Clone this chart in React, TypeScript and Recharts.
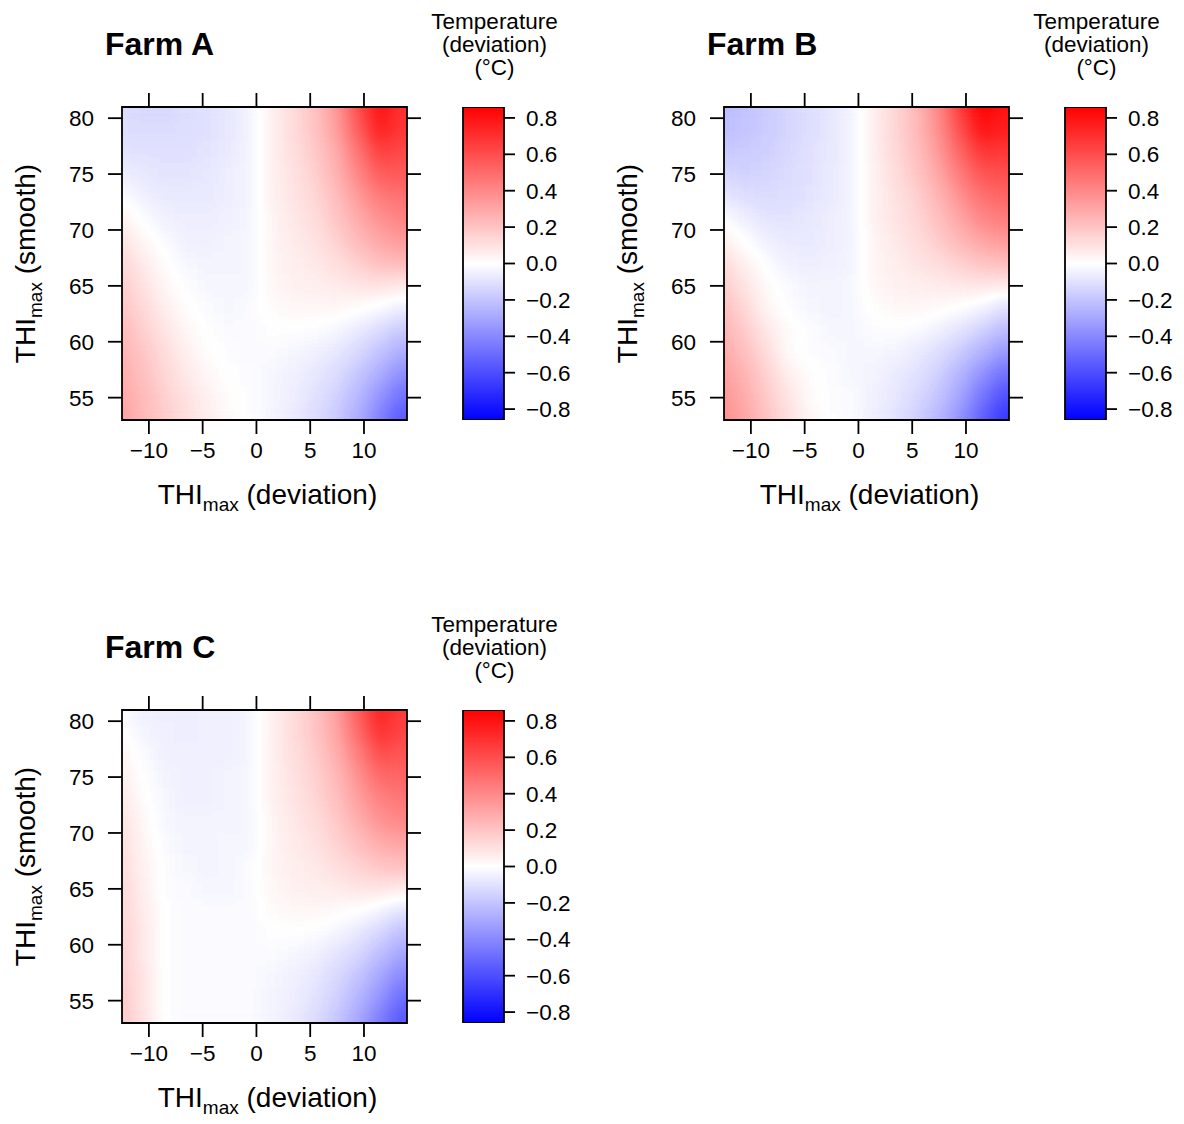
import React from "react";
import { Bar, ComposedChart, ReferenceArea, Scatter, ScatterChart, XAxis, YAxis } from "recharts";

// axis ranges and ticks
const X_DOMAIN: [number, number] = [-12.5, 14];
const Y_DOMAIN: [number, number] = [53, 81];
const X_TICKS = [-10, -5, 0, 5, 10];
const Y_TICKS = [55, 60, 65, 70, 75, 80];
const LEGEND_LIMIT = 0.86;
const LEGEND_TICKS = [-0.8, -0.6, -0.4, -0.2, 0, 0.2, 0.4, 0.6, 0.8];
const LEGEND_BAR = [{ name: "key", range: [-LEGEND_LIMIT, LEGEND_LIMIT] }];

// centres of the fitted surface grid (THImax deviation / THImax smooth)
const GRID_X = [-12.5, -10.5, -8.5, -6.5, -4.5, -2.5, -0.5, 1.5, 3.5, 5.5, 7.5, 9.5, 11.5, 13.5];
const GRID_Y = [81, 79, 77, 75, 73, 71, 69, 67, 65, 63, 61, 59, 57, 55, 53];
const GRID_STEP = 2;

// temperature deviation (°C), one row per GRID_Y value
const FARM_A = [
  [-0.12, -0.13, -0.13, -0.12, -0.1, -0.08, -0.04, 0.05, 0.12, 0.2, 0.35, 0.6, 0.8, 0.7],
  [-0.11, -0.12, -0.12, -0.11, -0.1, -0.08, -0.04, 0.05, 0.12, 0.2, 0.33, 0.55, 0.76, 0.68],
  [-0.09, -0.1, -0.1, -0.1, -0.09, -0.07, -0.04, 0.05, 0.11, 0.18, 0.29, 0.47, 0.65, 0.62],
  [-0.06, -0.08, -0.09, -0.09, -0.08, -0.06, -0.04, 0.05, 0.1, 0.16, 0.26, 0.41, 0.55, 0.56],
  [-0.01, -0.05, -0.07, -0.07, -0.07, -0.06, -0.04, 0.05, 0.09, 0.14, 0.22, 0.34, 0.45, 0.48],
  [0.05, -0.01, -0.05, -0.06, -0.06, -0.05, -0.03, 0.04, 0.08, 0.12, 0.19, 0.29, 0.37, 0.42],
  [0.1, 0.03, -0.02, -0.05, -0.05, -0.04, -0.03, 0.04, 0.07, 0.1, 0.15, 0.23, 0.3, 0.34],
  [0.14, 0.07, 0.01, -0.03, -0.04, -0.04, -0.03, 0.04, 0.06, 0.08, 0.11, 0.16, 0.21, 0.23],
  [0.17, 0.1, 0.03, -0.01, -0.03, -0.03, -0.03, 0.03, 0.05, 0.06, 0.07, 0.09, 0.1, 0.08],
  [0.2, 0.13, 0.06, 0.01, -0.02, -0.03, -0.02, 0.02, 0.03, 0.03, 0.03, 0.01, -0.02, -0.06],
  [0.23, 0.16, 0.09, 0.03, 0.0, -0.02, -0.02, 0.0, 0.0, -0.01, -0.03, -0.07, -0.12, -0.18],
  [0.26, 0.19, 0.12, 0.05, 0.01, -0.01, -0.02, -0.02, -0.03, -0.05, -0.08, -0.13, -0.2, -0.28],
  [0.28, 0.21, 0.14, 0.08, 0.03, 0.0, -0.01, -0.03, -0.05, -0.08, -0.12, -0.19, -0.28, -0.38],
  [0.3, 0.23, 0.16, 0.1, 0.05, 0.01, -0.01, -0.03, -0.06, -0.1, -0.15, -0.24, -0.36, -0.48],
  [0.32, 0.24, 0.17, 0.11, 0.06, 0.02, 0.0, -0.04, -0.07, -0.12, -0.18, -0.28, -0.42, -0.56],
];

const FARM_B = [
  [-0.22, -0.2, -0.17, -0.14, -0.11, -0.08, -0.04, 0.06, 0.14, 0.24, 0.4, 0.66, 0.86, 0.8],
  [-0.21, -0.19, -0.17, -0.14, -0.11, -0.08, -0.04, 0.06, 0.14, 0.23, 0.38, 0.6, 0.8, 0.76],
  [-0.18, -0.17, -0.16, -0.13, -0.1, -0.08, -0.04, 0.06, 0.13, 0.21, 0.34, 0.52, 0.68, 0.68],
  [-0.14, -0.15, -0.14, -0.12, -0.1, -0.07, -0.04, 0.05, 0.12, 0.19, 0.3, 0.45, 0.58, 0.6],
  [-0.08, -0.11, -0.12, -0.11, -0.09, -0.07, -0.04, 0.05, 0.1, 0.16, 0.25, 0.37, 0.48, 0.52],
  [-0.01, -0.06, -0.09, -0.09, -0.08, -0.06, -0.04, 0.05, 0.09, 0.14, 0.21, 0.31, 0.4, 0.44],
  [0.06, 0.0, -0.05, -0.07, -0.07, -0.06, -0.04, 0.04, 0.08, 0.12, 0.17, 0.24, 0.31, 0.34],
  [0.12, 0.05, -0.01, -0.05, -0.06, -0.05, -0.04, 0.04, 0.06, 0.09, 0.12, 0.16, 0.2, 0.22],
  [0.17, 0.09, 0.02, -0.02, -0.04, -0.04, -0.03, 0.03, 0.05, 0.06, 0.07, 0.08, 0.09, 0.07],
  [0.21, 0.13, 0.04, -0.01, -0.03, -0.04, -0.03, 0.01, 0.03, 0.03, 0.02, 0.0, -0.04, -0.1],
  [0.25, 0.17, 0.08, 0.02, -0.01, -0.03, -0.03, -0.01, -0.01, -0.02, -0.05, -0.09, -0.15, -0.22],
  [0.29, 0.21, 0.12, 0.02, -0.01, -0.02, -0.03, -0.03, -0.04, -0.07, -0.11, -0.17, -0.26, -0.35],
  [0.33, 0.25, 0.15, 0.06, 0.01, -0.01, -0.03, -0.04, -0.07, -0.1, -0.16, -0.25, -0.37, -0.48],
  [0.36, 0.28, 0.18, 0.09, 0.02, -0.01, -0.02, -0.05, -0.08, -0.13, -0.2, -0.31, -0.46, -0.6],
  [0.38, 0.3, 0.2, 0.11, 0.04, 0.0, -0.02, -0.06, -0.1, -0.16, -0.24, -0.37, -0.53, -0.68],
];

const FARM_C = [
  [-0.01, -0.05, -0.06, -0.06, -0.05, -0.05, -0.03, 0.05, 0.12, 0.2, 0.33, 0.55, 0.75, 0.66],
  [0.01, -0.04, -0.05, -0.06, -0.05, -0.05, -0.03, 0.05, 0.12, 0.19, 0.31, 0.5, 0.7, 0.63],
  [0.04, -0.02, -0.05, -0.05, -0.05, -0.05, -0.03, 0.05, 0.11, 0.17, 0.27, 0.43, 0.6, 0.58],
  [0.06, 0.0, -0.04, -0.05, -0.05, -0.04, -0.03, 0.05, 0.1, 0.15, 0.24, 0.37, 0.5, 0.52],
  [0.08, 0.01, -0.03, -0.05, -0.05, -0.04, -0.03, 0.05, 0.09, 0.14, 0.21, 0.32, 0.42, 0.46],
  [0.1, 0.03, -0.03, -0.04, -0.04, -0.04, -0.03, 0.04, 0.08, 0.12, 0.18, 0.27, 0.36, 0.4],
  [0.11, 0.04, -0.02, -0.04, -0.04, -0.03, -0.03, 0.04, 0.07, 0.1, 0.15, 0.21, 0.28, 0.31],
  [0.12, 0.05, -0.01, -0.03, -0.04, -0.03, -0.02, 0.04, 0.06, 0.08, 0.11, 0.15, 0.19, 0.21],
  [0.13, 0.06, -0.01, -0.02, -0.03, -0.03, -0.02, 0.03, 0.05, 0.06, 0.07, 0.09, 0.09, 0.07],
  [0.14, 0.07, 0.0, -0.02, -0.02, -0.02, -0.02, 0.02, 0.03, 0.03, 0.02, 0.0, -0.04, -0.09],
  [0.15, 0.08, 0.0, -0.02, -0.02, -0.02, -0.02, 0.0, 0.0, -0.01, -0.04, -0.08, -0.14, -0.21],
  [0.16, 0.08, 0.0, -0.02, -0.02, -0.02, -0.02, -0.02, -0.03, -0.05, -0.09, -0.14, -0.22, -0.31],
  [0.17, 0.09, 0.0, -0.02, -0.02, -0.02, -0.02, -0.03, -0.05, -0.08, -0.13, -0.2, -0.3, -0.41],
  [0.18, 0.09, 0.0, -0.02, -0.02, -0.02, -0.02, -0.04, -0.06, -0.1, -0.16, -0.25, -0.37, -0.5],
  [0.19, 0.1, 0.0, -0.02, -0.02, -0.02, -0.02, -0.04, -0.07, -0.12, -0.19, -0.3, -0.44, -0.57],
];

const FARM_TITLES = ["Farm A", "Farm B", "Farm C"];
const LEGEND_TITLE = ["Temperature", "(deviation)", "(°C)"];

// layout of one panel (heat map chart + colour key chart)
const PANEL_W = 430;
const PANEL_H = 540;
const KEY_W = 150;
const PLOT = { left: 122, top: 107, width: 285, height: 313 };
const KEY_LEFT = 33;
const KEY_BAR_W = 41;
const FONT = '"Liberation Sans", Arial, Helvetica, sans-serif';
const INK = "#000";
const LINE = { stroke: INK, strokeWidth: 1.8 };
const TICK = { fontSize: 22.5, fill: INK, fontFamily: FONT };

const CELL_W = (GRID_STEP * PLOT.width) / (X_DOMAIN[1] - X_DOMAIN[0]);
const CELL_H = (GRID_STEP * PLOT.height) / (Y_DOMAIN[1] - Y_DOMAIN[0]);

// linear blue - white - red palette
const heatColour = (v: number): [number, number, number] => {
  const t = Math.min(1, Math.abs(v) / LEGEND_LIMIT);
  return v >= 0 ? [1, 1 - t, 1 - t] : [1 - t, 1 - t, 1];
};

const TABLE_STEPS = 200;
const tableFor = (ch: number) =>
  Array.from({ length: TABLE_STEPS + 1 }, (_, k) => {
    const v = ((k / TABLE_STEPS) * 2 - 1) * LEGEND_LIMIT;
    return heatColour(v)[ch].toFixed(4);
  }).join(" ");

const rgb = (c: [number, number, number]) =>
  `rgb(${c.map((x) => Math.round(x * 255)).join(",")})`;

// cells are painted as grey levels, smoothed, then recoloured by the palette filter
const greyFor = (v: number) => {
  const g = Math.round((255 * (v + LEGEND_LIMIT)) / (2 * LEGEND_LIMIT));
  return `rgb(${g},${g},${g})`;
};

const toCells = (rows: number[][]) =>
  rows.flatMap((row, i) => row.map((v, j) => ({ x: GRID_X[j], y: GRID_Y[i], v })));

const minus = (s: string) => s.replace("-", "\u2212");
const fmtAxis = (v: number) => minus(String(v));
const fmtKey = (v: number) => minus(v.toFixed(1));
const blank = () => "";

const HeatCell = (props: any) => {
  const { cx, cy, payload } = props;
  if (cx == null || cy == null) return <g />;
  const w = CELL_W + 1;
  const h = CELL_H + 1;
  return <rect x={cx - w / 2} y={cy - h / 2} width={w} height={h} fill={greyFor(payload.v)} />;
};

function Defs() {
  return (
    <svg width={0} height={0} style={{ position: "absolute" }}>
      <defs>
        <filter id="heatSmooth" colorInterpolationFilters="sRGB">
          <feGaussianBlur stdDeviation={8.5} edgeMode="duplicate" />
          <feComponentTransfer>
            <feFuncR type="table" tableValues={tableFor(0)} />
            <feFuncG type="table" tableValues={tableFor(1)} />
            <feFuncB type="table" tableValues={tableFor(2)} />
            <feFuncA type="linear" slope={4} intercept={0} />
          </feComponentTransfer>
        </filter>
        <linearGradient id="keyRamp" x1="0" y1="1" x2="0" y2="0">
          {Array.from({ length: 41 }, (_, k) => {
            const v = ((k / 40) * 2 - 1) * LEGEND_LIMIT;
            return <stop key={k} offset={k / 40} stopColor={rgb(heatColour(v))} />;
          })}
        </linearGradient>
      </defs>
    </svg>
  );
}

function Panel({ title, rows, left, top }: { title: string; rows: number[][]; left: number; top: number }) {
  const cells = toCells(rows);
  const plotRight = PLOT.left + PLOT.width;
  const plotBottom = PLOT.top + PLOT.height;
  const midX = PLOT.left + PLOT.width / 2 + 3;
  const midY = PLOT.top + PLOT.height / 2;
  const keyMid = PANEL_W + KEY_LEFT + KEY_BAR_W / 2 + 11;

  return (
    <>
      <div style={{ position: "absolute", left, top, width: PANEL_W, height: PANEL_H }}>
        <ScatterChart
          width={PANEL_W}
          height={PANEL_H}
          margin={{ top: PLOT.top - 20, left: PLOT.left - 70, right: PANEL_W - plotRight - 20, bottom: PANEL_H - plotBottom - 40 }}
        >
          <Scatter data={cells} shape={HeatCell} isAnimationActive={false} className="heat-surface" zIndex={50} />
          <XAxis type="number" dataKey="x" domain={X_DOMAIN} ticks={X_TICKS} interval={0} allowDataOverflow height={40}
            tickSize={14} tickMargin={8} axisLine={false} tickLine={LINE} tick={TICK} tickFormatter={fmtAxis} />
          <XAxis xAxisId="top" orientation="top" type="number" dataKey="x" domain={X_DOMAIN} ticks={X_TICKS} interval={0}
            allowDataOverflow height={20} tickSize={14} axisLine={false} tickLine={LINE} tick={TICK} tickFormatter={blank} />
          <YAxis type="number" dataKey="y" domain={Y_DOMAIN} ticks={Y_TICKS} interval={0} allowDataOverflow width={70}
            tickSize={14} tickMargin={14} axisLine={false} tickLine={LINE} tick={TICK} tickFormatter={fmtAxis} />
          <YAxis yAxisId="right" orientation="right" type="number" dataKey="y" domain={Y_DOMAIN} ticks={Y_TICKS} interval={0}
            allowDataOverflow width={20} tickSize={14} axisLine={false} tickLine={LINE} tick={TICK} tickFormatter={blank} />
          <ReferenceArea x1={X_DOMAIN[0]} x2={X_DOMAIN[1]} y1={Y_DOMAIN[0]} y2={Y_DOMAIN[1]} fill="none"
            stroke={INK} strokeWidth={1.8} zIndex={700} />
        </ScatterChart>
      </div>

      <div style={{ position: "absolute", left: left + PANEL_W, top, width: KEY_W, height: PANEL_H }}>
        <ComposedChart
          width={KEY_W}
          height={PANEL_H}
          data={LEGEND_BAR}
          barCategoryGap={0}
          margin={{ top: PLOT.top, left: KEY_LEFT, right: 0, bottom: PANEL_H - plotBottom }}
        >
          <XAxis type="category" dataKey="name" hide />
          <YAxis orientation="right" type="number" domain={[-LEGEND_LIMIT, LEGEND_LIMIT]} ticks={LEGEND_TICKS} interval={0}
            allowDataOverflow width={KEY_W - KEY_LEFT - KEY_BAR_W} tickSize={11} tickMargin={11} axisLine={false}
            tickLine={LINE} tick={TICK} tickFormatter={fmtKey} />
          <Bar dataKey="range" fill="url(#keyRamp)" stroke={INK} strokeWidth={1.8} isAnimationActive={false} />
        </ComposedChart>
      </div>

      <svg style={{ position: "absolute", left, top, width: PANEL_W + KEY_W, height: PANEL_H, pointerEvents: "none" }}
        width={PANEL_W + KEY_W} height={PANEL_H}>
        <text x={105} y={55} fontFamily={FONT} fontWeight="bold" fontSize={32} fill={INK}>{title}</text>
        {LEGEND_TITLE.map((line, i) => (
          <text key={line} x={keyMid} y={29 + i * 23} fontFamily={FONT} fontSize={22.5} fill={INK} textAnchor="middle">{line}</text>
        ))}
        <text x={midX} y={504} fontFamily={FONT} fontSize={28} fill={INK} textAnchor="middle">
          THI<tspan fontSize={19} dy={7}>max</tspan><tspan dy={-7}> (deviation)</tspan>
        </text>
        <text x={35} y={midY} transform={`rotate(-90 35 ${midY})`} fontFamily={FONT} fontSize={28} fill={INK} textAnchor="middle">
          THI<tspan fontSize={19} dy={7}>max</tspan><tspan dy={-7}> (smooth)</tspan>
        </text>
      </svg>
    </>
  );
}

export default function App() {
  return (
    <div style={{ position: "absolute", left: 0, top: 0, width: 1184, height: 1124, background: "#fff", fontFamily: FONT }}>
      <style>{`.heat-surface { filter: url(#heatSmooth); }`}</style>
      <Defs />
      <Panel title={FARM_TITLES[0]} rows={FARM_A} left={0} top={0} />
      <Panel title={FARM_TITLES[1]} rows={FARM_B} left={602} top={0} />
      <Panel title={FARM_TITLES[2]} rows={FARM_C} left={0} top={603} />
    </div>
  );
}
